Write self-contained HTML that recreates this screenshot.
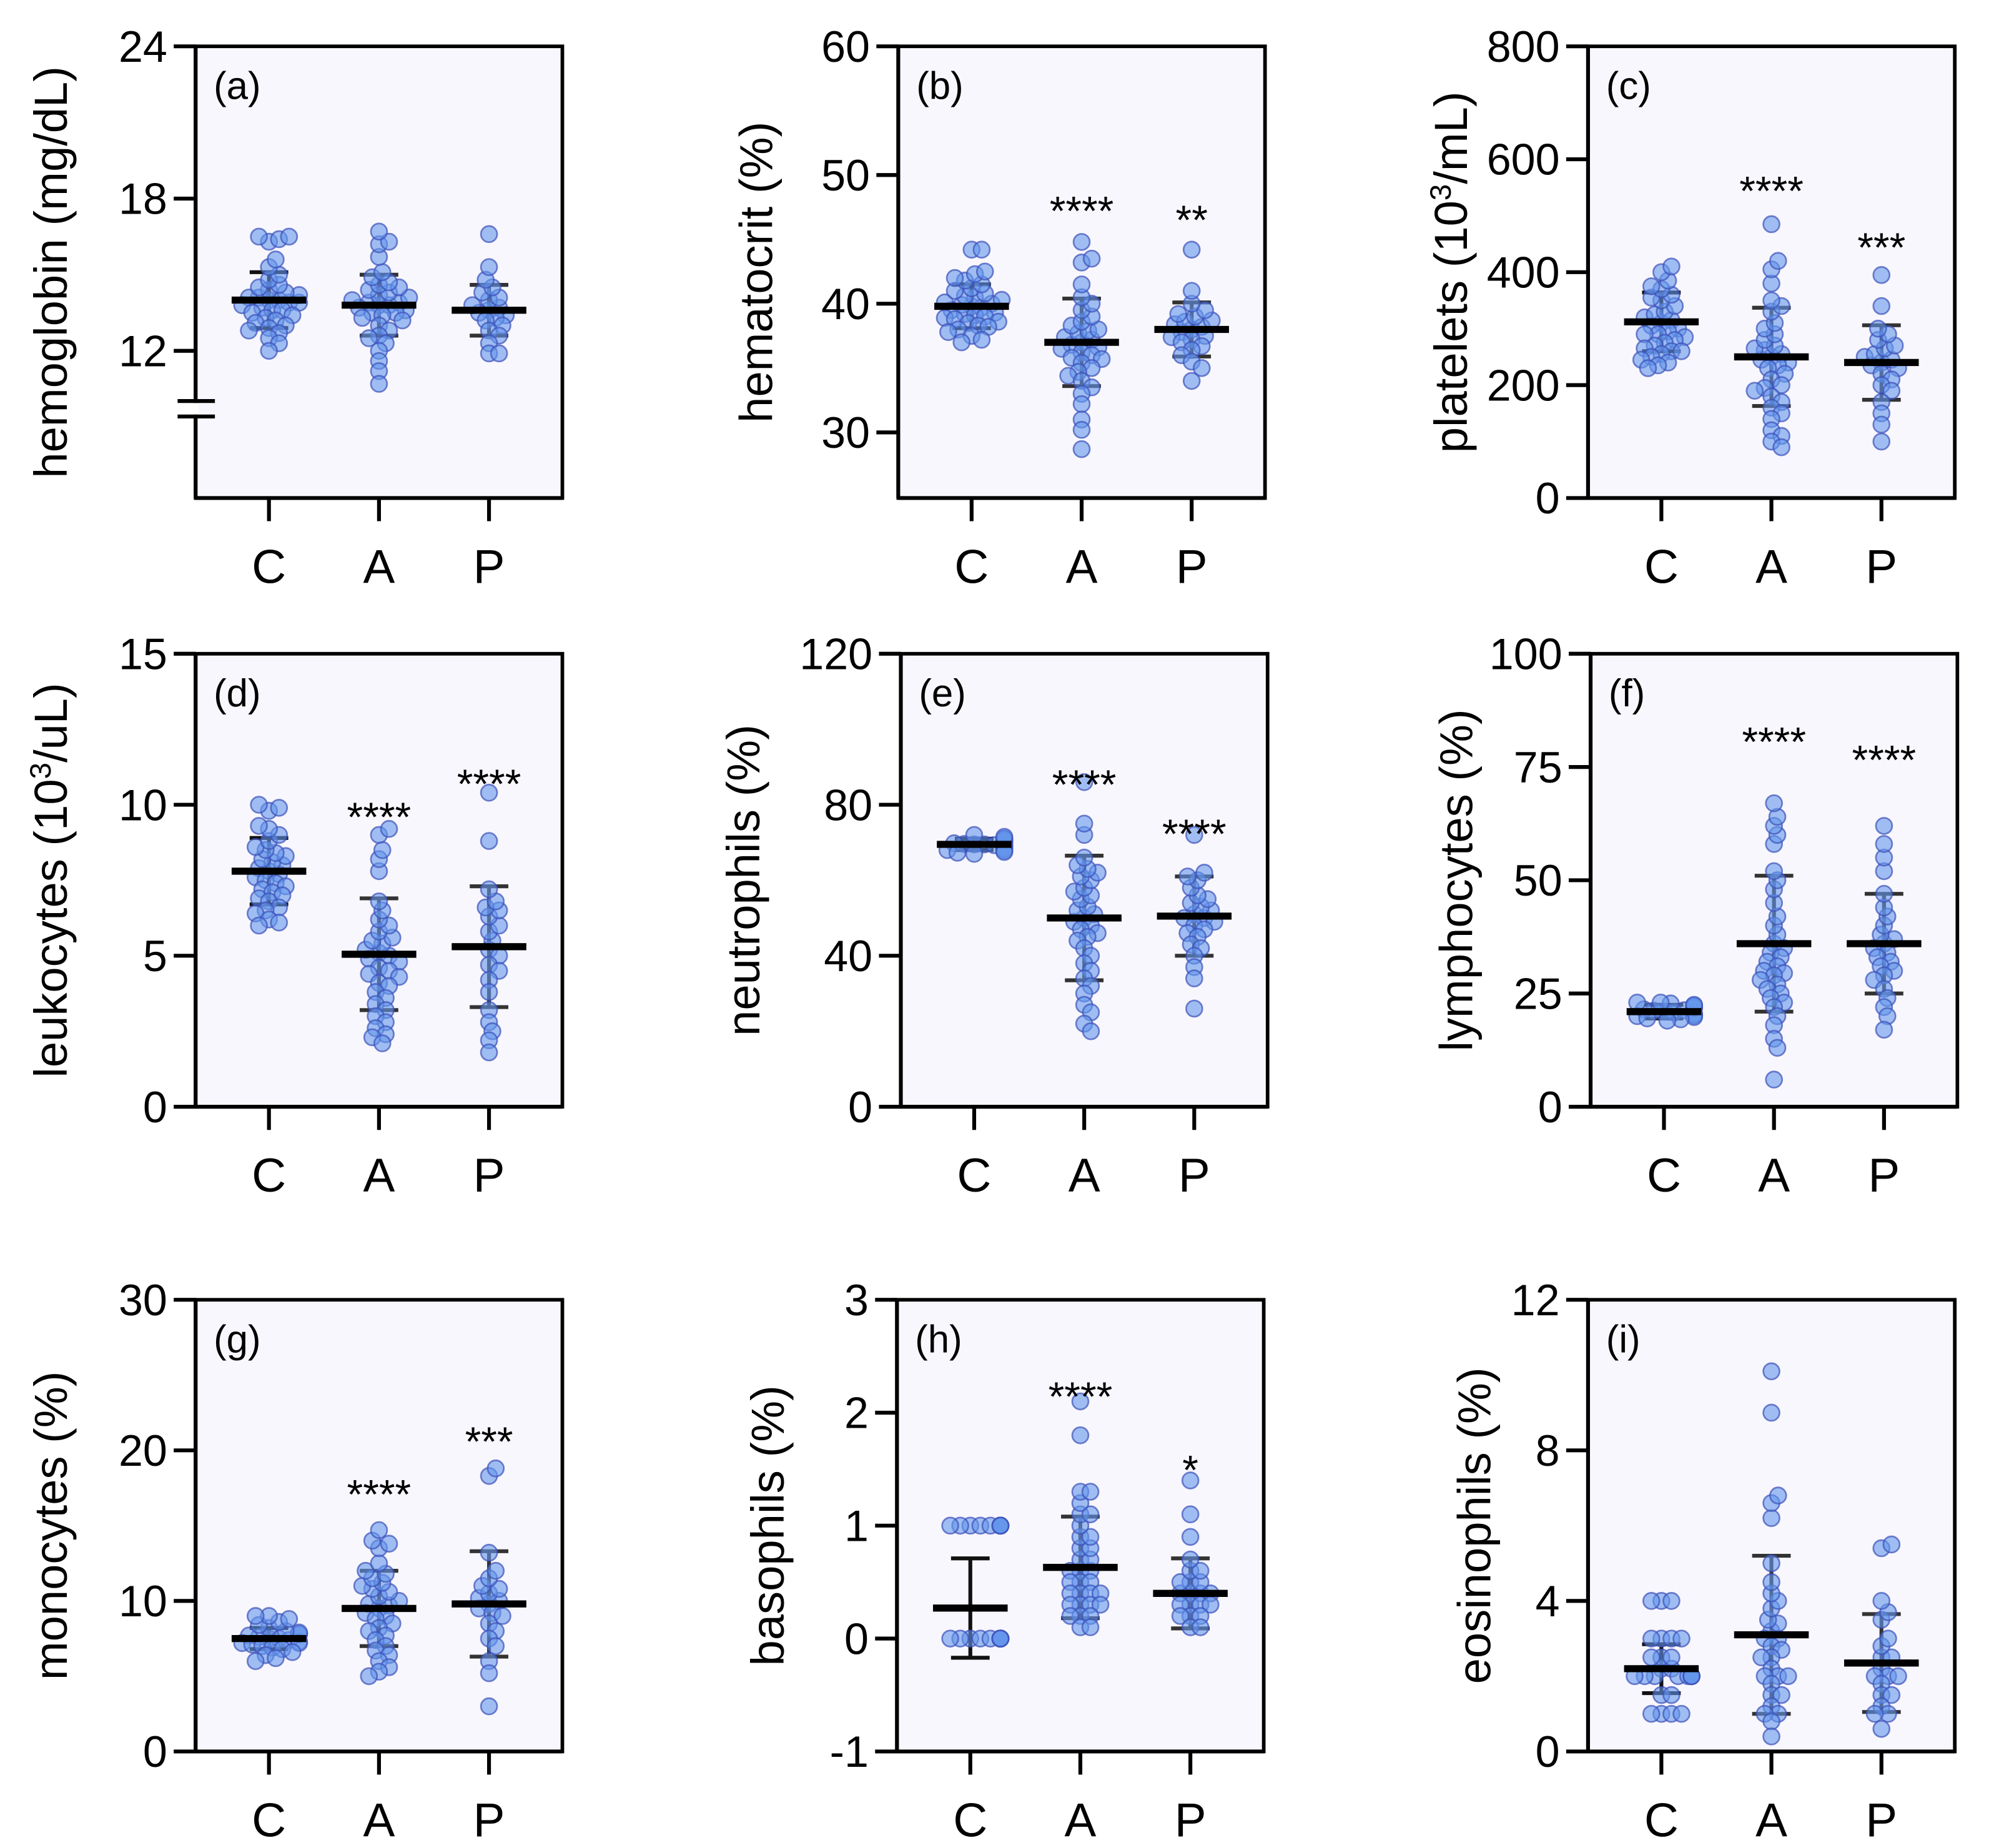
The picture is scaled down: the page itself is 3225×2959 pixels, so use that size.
<!DOCTYPE html>
<html><head><meta charset="utf-8"><style>
html,body{margin:0;padding:0;background:#fff;}
svg{display:block;}
text{font-family:"Liberation Sans",Arial,sans-serif;fill:#000;}
</style></head><body>
<svg id="fig" width="3225" height="2959" viewBox="0 0 1565 1436" preserveAspectRatio="none" xmlns="http://www.w3.org/2000/svg"></svg>
<script>
// ---- data ----
const groups = ["C","A","P"];
const a_C=[16.5,16.4,16.3,16.5,15.6,15.3,15.0,14.8,14.6,14.5,14.3,14.2,14.1,14.0,14.0,13.9,13.8,13.7,13.6,13.5,13.4,13.3,13.2,13.1,13.0,12.9,12.8,12.7,12.5,12.3,12.0,14.4,13.6,14.1,13.9];
const a_A=[16.7,16.3,16.2,15.7,15.1,14.9,14.7,14.6,14.5,14.4,14.3,14.2,14.0,13.9,13.8,13.8,13.7,13.6,13.5,13.4,13.3,13.2,13.0,12.8,12.6,12.5,12.3,12.0,11.6,11.2,10.7,14.1,13.9,13.5];
const a_P=[16.6,15.3,14.8,14.5,14.3,14.1,14.0,13.8,13.7,13.6,13.5,13.4,13.3,13.2,13.0,12.8,12.6,12.3,11.9,11.9];
const b_C=[44.2,44.2,42.5,42.3,42.0,41.8,41.5,41.2,41.0,40.8,40.5,40.3,40.1,40.0,39.8,39.7,39.5,39.3,39.1,39.0,38.8,38.6,38.5,38.3,38.2,38.0,37.8,37.5,37.2,37.0,40.6,39.9,39.2,38.9];
const b_A=[44.8,43.5,43.2,41.5,40.5,40.0,39.5,39.0,38.6,38.3,38.0,37.7,37.4,37.2,37.0,36.8,36.5,36.2,36.0,35.7,35.4,35.0,34.7,34.4,34.0,33.5,33.0,32.2,31.0,30.2,28.7,37.9,36.6,35.8];
const b_P=[44.2,41.0,40.0,39.5,39.2,39.0,38.7,38.4,38.2,38.0,37.8,37.5,37.2,37.0,36.7,36.4,36.0,35.5,35.0,34.0,38.6,37.4];
const c_C=[410,400,385,375,370,360,350,340,330,320,315,310,305,300,295,290,285,280,275,270,265,260,255,250,245,240,235,230,325,355,290,260];
const c_A=[485,420,405,380,350,340,330,310,300,290,280,270,262,255,250,245,240,230,220,210,200,190,180,170,160,150,140,120,110,100,90,265,235,195];
const c_P=[395,340,300,290,280,270,265,255,250,245,240,235,230,220,210,200,190,170,150,130,100];
const d_C=[10.0,9.9,9.8,9.3,9.2,9.0,8.8,8.6,8.4,8.3,8.2,8.1,8.0,7.9,7.8,7.7,7.6,7.5,7.4,7.3,7.2,7.0,6.9,6.8,6.6,6.5,6.4,6.2,6.1,6.0,8.5,7.1];
const d_A=[9.2,9.0,8.5,8.2,7.8,6.8,6.5,6.2,6.0,5.8,5.6,5.4,5.2,5.1,5.0,4.9,4.8,4.6,4.5,4.3,4.1,4.0,3.8,3.6,3.4,3.2,3.0,2.8,2.6,2.4,2.3,2.1,5.5,4.4];
const d_P=[10.4,8.8,7.2,6.8,6.6,6.5,6.3,6.0,5.8,5.5,5.2,5.0,4.7,4.5,4.2,3.8,3.2,2.8,2.5,2.2,1.8];
const e_C=[72,71.5,71,71,70.5,70.5,70,70,69.8,69.5,69.5,69.3,69,69,68.8,68.5,68.5,68.2,68,67.8,67.5,67.3,67,70.2,69.6,68.7];
const e_A=[86,75,72,66,64,63,62,61,60,58,56,55,53,52,51,50,49,48,46,45,44,42,40,38,36,34,32,30,27,25,22,20,57,47];
const e_P=[72,62,61,60,58,56,55,54,53,52,51,50,50,49,48,47,46,45,43,42,40,37,34,26];
const f_C=[23,23,22.8,22.5,22.3,22,21.8,21.5,21.3,21,20.8,20.5,20.3,20,19.8,19.5,19.3,19,21.2,22.2,20.1];
const f_A=[67,64,62,60,58,52,50,48,45,42,40,38,36,34,33,32,31,30,29,28,27,26,25,24,23,22,20,18,15,13,6,35,29.5];
const f_P=[62,58,55,52,47,44,42,40,38,37,36,35,34,33,32,31,30,29,28,26,24,22,20,17];
const g_C=[9.0,9.0,8.8,8.6,8.4,8.2,8.0,7.9,7.8,7.7,7.6,7.5,7.4,7.3,7.2,7.1,7.0,6.9,6.8,6.6,6.4,6.2,6.0,7.5,7.8,7.2];
const g_A=[14.7,14.0,13.8,13.5,12.5,12.0,11.8,11.5,11.2,11.0,10.6,10.3,10.0,9.8,9.5,9.2,9.0,8.8,8.5,8.2,8.0,7.7,7.4,7.0,6.7,6.4,6.0,5.6,5.3,5.0,9.7,10.8];
const g_P=[18.8,18.3,13.2,12.0,11.5,11.0,10.8,10.5,10.2,10.0,9.8,9.5,9.2,9.0,8.5,8.0,7.5,7.0,6.0,5.2,3.0];
const h_C=[1,1,1,1,1,1,1,1,1,1,0,0,0,0,0,0,0,0,0,0,0,0,0,0,0,0,0,0,0,0,0,0];
const h_A=[2.1,1.8,1.3,1.3,1.2,1.1,1.1,1.0,0.9,0.9,0.8,0.8,0.7,0.7,0.6,0.6,0.5,0.5,0.5,0.4,0.4,0.4,0.3,0.3,0.3,0.3,0.2,0.2,0.2,0.1,0.1,0.6,0.4];
const h_P=[1.4,1.1,0.9,0.7,0.6,0.5,0.5,0.5,0.4,0.4,0.4,0.3,0.3,0.3,0.3,0.2,0.2,0.2,0.1,0.1,0.6,0.4];
const i_C=[4,4,4,3,3,3,2.5,2.5,2.2,2.2,2,2,2,2,2,2,2,2,2,2,1.5,1.5,1,1,1,1,3,2.5];
const i_A=[10.1,9.0,6.8,6.6,6.2,5.0,4.5,4.2,4.0,3.8,3.5,3.2,3.0,3.0,2.8,2.5,2.5,2.2,2.0,2.0,2.0,1.8,1.5,1.5,1.2,1.0,1.0,0.8,0.4,3.4,2.7];
const i_P=[5.5,5.4,4.0,3.7,3.5,3.0,2.8,2.5,2.5,2.2,2.0,2.0,2.0,1.8,1.5,1.5,1.2,1.0,1.0,0.6];
const means_a=[14.0,13.8,13.6], sds_a=[1.1,1.2,1.0];
const means_b=[39.8,37.0,38.0], sds_b=[1.7,3.4,2.1];
const means_c=[312,250,240], sds_c=[52,87,66];
const means_d=[7.8,5.05,5.3], sds_d=[1.1,1.85,2.0];
const means_e=[69.5,50.0,50.5], sds_e=[1.5,16.5,10.5];
const means_f=[21.0,36.0,36.0], sds_f=[1.5,15.0,11.0];
const means_g=[7.5,9.5,9.8], sds_g=[0.7,2.5,3.5];
const means_h=[0.27,0.63,0.4], sds_h=[0.44,0.45,0.31];
const means_i=[2.2,3.1,2.35], sds_i=[0.65,2.1,1.3];
const stars_b=["","****","**"], stars_c=["","****","***"], stars_d=["","****","****"];
const stars_e=["","****","****"], stars_f=["","****","****"], stars_g=["","****","***"];
const stars_h=["","****","*"], stars_i=["","",""], stars_a=["","",""];
const starY_b=[0,47.7,47], starY_c=[0,555,455], starY_d=[0,9.8,10.9];
const starY_e=[0,87,74], starY_f=[0,82,78], starY_g=[0,17.5,21];
const starY_h=[0,2.2,1.55], starY_i=[0,0,0], starY_a=[0,0,0];
const ticks_a=[12,18,24], ticks_b=[30,40,50,60], ticks_c=[0,200,400,600,800];
const ticks_d=[0,5,10,15], ticks_e=[0,40,80,120], ticks_f=[0,25,50,75,100];
const ticks_g=[0,10,20,30], ticks_h=[-1,0,1,2,3], ticks_i=[0,4,8,12];

const panels=[
 {id:"a",x0:152,top:36,bot:387,ymin:6.2,ymax:24,label:"hemoglobin (mg/dL)",labelX:40,vals:[a_C,a_A,a_P],means:means_a,sds:sds_a,stars:stars_a,starY:starY_a,ticks:ticks_a,brk:true,tickMin:12},
 {id:"b",x0:698,top:36,bot:387,ymin:24.9,ymax:60,label:"hematocrit (%)",labelX:588,vals:[b_C,b_A,b_P],means:means_b,sds:sds_b,stars:stars_b,starY:starY_b,ticks:ticks_b,tickMin:30},
 {id:"c",x0:1234,top:36,bot:387,ymin:0,ymax:800,label:"platelets (10<tspan baseline-shift='super' font-size='23'>3</tspan>/mL)",labelX:1128,vals:[c_C,c_A,c_P],means:means_c,sds:sds_c,stars:stars_c,starY:starY_c,ticks:ticks_c},
 {id:"d",x0:152,top:508,bot:860,ymin:0,ymax:15,label:"leukocytes (10<tspan baseline-shift='super' font-size='23'>3</tspan>/uL)",labelX:40,vals:[d_C,d_A,d_P],means:means_d,sds:sds_d,stars:stars_d,starY:starY_d,ticks:ticks_d},
 {id:"e",x0:700,top:508,bot:860,ymin:0,ymax:120,label:"neutrophils (%)",labelX:578,vals:[e_C,e_A,e_P],means:means_e,sds:sds_e,stars:stars_e,starY:starY_e,ticks:ticks_e},
 {id:"f",x0:1236,top:508,bot:860,ymin:0,ymax:100,label:"lymphocytes (%)",labelX:1132,vals:[f_C,f_A,f_P],means:means_f,sds:sds_f,stars:stars_f,starY:starY_f,ticks:ticks_f},
 {id:"g",x0:152,top:1010,bot:1361,ymin:0,ymax:30,label:"monocytes (%)",labelX:40,vals:[g_C,g_A,g_P],means:means_g,sds:sds_g,stars:stars_g,starY:starY_g,ticks:ticks_g},
 {id:"h",x0:697,top:1010,bot:1361,ymin:-1,ymax:3,label:"basophils (%)",labelX:597,vals:[h_C,h_A,h_P],means:means_h,sds:sds_h,stars:stars_h,starY:starY_h,ticks:ticks_h},
 {id:"i",x0:1234,top:1010,bot:1361,ymin:0,ymax:12,label:"eosinophils (%)",labelX:1146,vals:[i_C,i_A,i_P],means:means_i,sds:sds_i,stars:stars_i,starY:starY_i,ticks:ticks_i}
];
const NS="http://www.w3.org/2000/svg";
const svg=document.getElementById("fig");
function mk(tag,attrs,parent){const e=document.createElementNS(NS,tag);for(const k in attrs)e.setAttribute(k,attrs[k]);(parent||svg).appendChild(e);return e;}
const W=285, R=6.3;
panels.forEach(p=>{
  const g=mk("g",{});
  
  
  const y=v=>p.bot-(v-p.ymin)/(p.ymax-p.ymin)*(p.bot-p.top);
  const gx=[p.x0+W*0.2,p.x0+W*0.5,p.x0+W*0.8];
  const bg=mk("rect",{x:p.x0,y:p.top,width:W,height:p.bot-p.top,fill:"#f8f7fd",stroke:"#000","stroke-width":2.8},g);
  
  
  if(p.brk){
    const yb=y(p.tickMin)+39;
    mk("line",{x1:p.x0,y1:p.top,x2:p.x0,y2:yb,stroke:"#000","stroke-width":3},g);
    mk("line",{x1:p.x0,y1:yb+12,x2:p.x0,y2:p.bot,stroke:"#000","stroke-width":3},g);
    mk("rect",{x:p.x0-2,y:yb+1.5,width:4,height:9,fill:"#fff"},g);
    mk("line",{x1:p.x0-14,y1:yb,x2:p.x0+15,y2:yb,stroke:"#000","stroke-width":3},g);
    mk("line",{x1:p.x0-14,y1:yb+12,x2:p.x0+15,y2:yb+12,stroke:"#000","stroke-width":3},g);
  } else mk("line",{x1:p.x0,y1:p.top,x2:p.x0,y2:p.bot,stroke:"#000","stroke-width":3},g);
  mk("line",{x1:p.x0,y1:p.bot,x2:p.x0+W,y2:p.bot,stroke:"#000","stroke-width":3},g);
  p.ticks.forEach(t=>{
    mk("line",{x1:p.x0-17,y1:y(t),x2:p.x0,y2:y(t),stroke:"#000","stroke-width":3},g);
    const tx=mk("text",{x:p.x0-22,y:y(t)+12,"font-size":34,"text-anchor":"end"},g);
    tx.textContent=t;
    
    
  });
  groups.forEach((gr,i)=>{
    mk("line",{x1:gx[i],y1:p.bot,x2:gx[i],y2:p.bot+18,stroke:"#000","stroke-width":3},g);
    const tx=mk("text",{x:gx[i],y:p.bot+66,"font-size":37,"text-anchor":"middle"},g);
    tx.textContent=gr;
    
    
  });
  const yl=mk("text",{transform:`translate(${p.labelX+12},${(p.top+p.bot)/2}) rotate(-90)`,"font-size":36,"text-anchor":"middle"},g);
  yl.innerHTML=p.label;
  
  
  const pl=mk("text",{x:p.x0+14,y:p.top+41,"font-size":30},g);
  pl.textContent="("+p.id+")";
  
  
  groups.forEach((gr,i)=>{
    const cx=gx[i];
    const m=p.means[i],s=p.sds[i];
    const eb=mk("g",{},g);
    
    
    const ec=i===0?"#111":"#333";
    mk("line",{x1:cx,y1:y(m-s),x2:cx,y2:y(m+s),stroke:ec,"stroke-width":3},eb);
    mk("line",{x1:cx-15,y1:y(m-s),x2:cx+15,y2:y(m-s),stroke:ec,"stroke-width":3},eb);
    mk("line",{x1:cx-15,y1:y(m+s),x2:cx+15,y2:y(m+s),stroke:ec,"stroke-width":3},eb);
    const vals=p.vals[i].slice().sort((a,b)=>Math.abs(a-m)-Math.abs(b-m));
    const placed=[];
    vals.forEach(v=>{
      const py=y(v); let px=cx;
      for(let k=0;k<60;k++){
        const off=(k%2?1:-1)*Math.ceil(k/2)*2.6;
        const tx=cx+off;
        if(placed.every(q=>(q[0]-tx)**2+(q[1]-py)**2>=(R*1.15)**2)||Math.abs(off)>=22){px=tx;break;}
      }
      placed.push([px,py]);
      const c=mk("circle",{cx:px,cy:py,r:R,fill:"rgba(100,150,235,0.6)",stroke:"rgba(60,80,185,0.7)","stroke-width":1.3},g);
      
      
    });
    const mb=mk("line",{x1:cx-29,y1:y(m),x2:cx+29,y2:y(m),stroke:"#000","stroke-width":5.5},g);
    
    
    if(p.stars[i]){
      const st=mk("text",{x:cx,y:y(p.starY[i])+16,"font-size":32,"text-anchor":"middle"},g);
      st.textContent=p.stars[i];
      
      
    }
  });
});
</script>
</body></html>
